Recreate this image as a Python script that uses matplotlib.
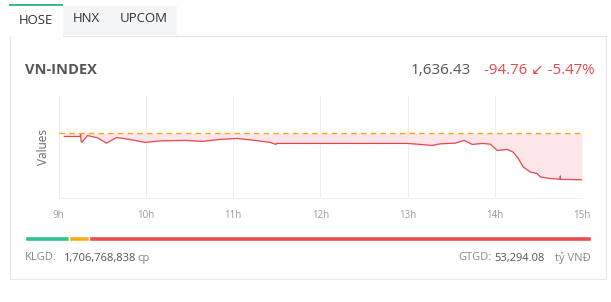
import matplotlib.pyplot as plt
from matplotlib.patches import Rectangle

plt.rcParams['font.family'] = ['Open Sans', 'DejaVu Sans']

# minutes after 9:00 and index values
minutes = [4, 15, 15.2, 15.5, 16, 20, 27, 33, 40, 49, 59.5, 70, 87, 99, 111, 123, 135,
           145.5, 149.5, 150, 240, 248.7, 257, 262.5, 272.8, 279, 284.5, 291.4, 296.9,
           301.7, 308.6, 312.7, 316.1, 319.6, 324.4, 329.2, 331.3, 338.2, 345, 345.1,
           345.2, 352, 360]
values = [1725.1, 1725.1, 1731.0, 1716.0, 1713.0, 1727.0, 1722.0, 1711.4, 1723.0, 1719.0,
          1712.9, 1716.0, 1717.0, 1715.0, 1719.0, 1721.0, 1717.0, 1713.0, 1708.8, 1710.8,
          1710.8, 1708.8, 1706.7, 1710.0, 1711.4, 1717.0, 1708.8, 1710.8, 1709.4, 1696.5,
          1698.6, 1693.0, 1680.3, 1662.5, 1652.3, 1649.0, 1642.1, 1638.9, 1637.4, 1644.2,
          1637.2, 1636.8, 1636.43]
ref_value = 1731.19
hour_ticks = [0, 60, 120, 180, 240, 300, 360]
hour_labels = ['9h', '10h', '11h', '12h', '13h', '14h', '15h']

# market breadth bar (up / unchanged / down)
breadth = [38, 18, 437]
breadth_colors = ['#2fc58a', '#f6ac1c', '#ef4a50']

W, H = 611, 302
fig = plt.figure(figsize=(W / 100, H / 100), dpi=100)
fig.patch.set_facecolor('white')


def fx(x):
    return x / W


def fy(y):
    return 1 - y / H


# tabs and card frame
fig.patches.append(Rectangle((fx(63), fy(35)), fx(177) - fx(63), fy(6) - fy(35),
                             transform=fig.transFigure, facecolor='#f4f5f6', edgecolor='none'))
fig.patches.append(Rectangle((fx(9), fy(6)), fx(63) - fx(9), fy(4) - fy(6),
                             transform=fig.transFigure, facecolor='#3dbb84', edgecolor='none'))
fig.add_artist(plt.Line2D([fx(63), fx(606)], [fy(35.5), fy(35.5)], color='#dfe5ea', lw=0.8))
fig.add_artist(plt.Line2D([fx(9.5), fx(9.5)], [fy(36), fy(279)], color='#e3e8ec', lw=0.8))
fig.add_artist(plt.Line2D([fx(606), fx(606)], [fy(36), fy(279)], color='#e3e8ec', lw=0.8))
fig.add_artist(plt.Line2D([fx(9.5), fx(606)], [fy(279), fy(279)], color='#e3e8ec', lw=0.8))

fig.text(fx(36), fy(21), 'HOSE', fontsize=9.5, color='#333333', ha='center', va='center')
fig.text(fx(86.5), fy(18), 'HNX', fontsize=9.5, color='#333333', ha='center', va='center')
fig.text(fx(144), fy(18), 'UPCOM', fontsize=9.5, color='#333333', ha='center', va='center')

fig.text(fx(25), fy(70), 'VN-INDEX', fontsize=10.5, fontweight='bold', color='#555555',
         ha='left', va='center')
fig.text(fx(471), fy(71), '1,636.43', fontsize=11, color='#555555', ha='right', va='center')
fig.text(fx(595), fy(71), '-94.76 \u2199 -5.47%', fontsize=10.8, color='#e5484d',
         ha='right', va='center')

# line chart
ax = fig.add_axes([fx(58.5), fy(198), fx(582) - fx(58.5), fy(96) - fy(198)])
ax.fill_between(minutes, values, ref_value, color='#fde6e7', lw=0)
ax.plot(minutes, values, color='#e5484d', lw=0.9)
ax.axhline(ref_value, color='#f2a816', lw=1.0, dashes=(4, 3))
ax.set_xlim(0, 360)
ax.set_ylim(1599, 1808)
ax.set_xticks(hour_ticks)
ax.set_xticklabels(hour_labels)
ax.set_yticks([])
ax.tick_params(axis='x', length=0, labelsize=7, labelcolor='#999999', pad=9)
ax.grid(axis='x', color='#eeeeee', lw=0.8)
ax.set_axisbelow(True)
for side in ['top', 'right', 'left']:
    ax.spines[side].set_visible(False)
ax.spines['bottom'].set_color('#f0f0f0')
ax.set_ylabel('Values', fontsize=8.5, color='#666666', labelpad=6)

# breadth bar
bx = fig.add_axes([fx(25), fy(240.5), fx(591) - fx(25), fy(235.5) - fy(240.5)])
left = 0
for n, c in zip(breadth, breadth_colors):
    bx.barh(0, n, left=left, height=1, color=c, edgecolor='white', lw=1)
    left += n
bx.set_xlim(0, sum(breadth))
bx.set_ylim(-0.5, 0.5)
bx.axis('off')

fig.text(fx(25), fy(258), 'KLGD:', fontsize=8, color='#888888', ha='left', va='center')
fig.text(fx(63), fy(258), '1,706,768,838', fontsize=8, color='#555555', ha='left', va='center')
fig.text(fx(137), fy(258), 'cp', fontsize=8, color='#888888', ha='left', va='center')
fig.text(fx(458), fy(258), 'GTGD:', fontsize=8, color='#888888', ha='left', va='center')
fig.text(fx(494), fy(258), '53,294.08', fontsize=8, color='#555555', ha='left', va='center')
fig.text(fx(591), fy(258), 'tỷ VNĐ', fontsize=8, color='#888888', ha='right', va='center')

fig.savefig('out.png', dpi=100)
